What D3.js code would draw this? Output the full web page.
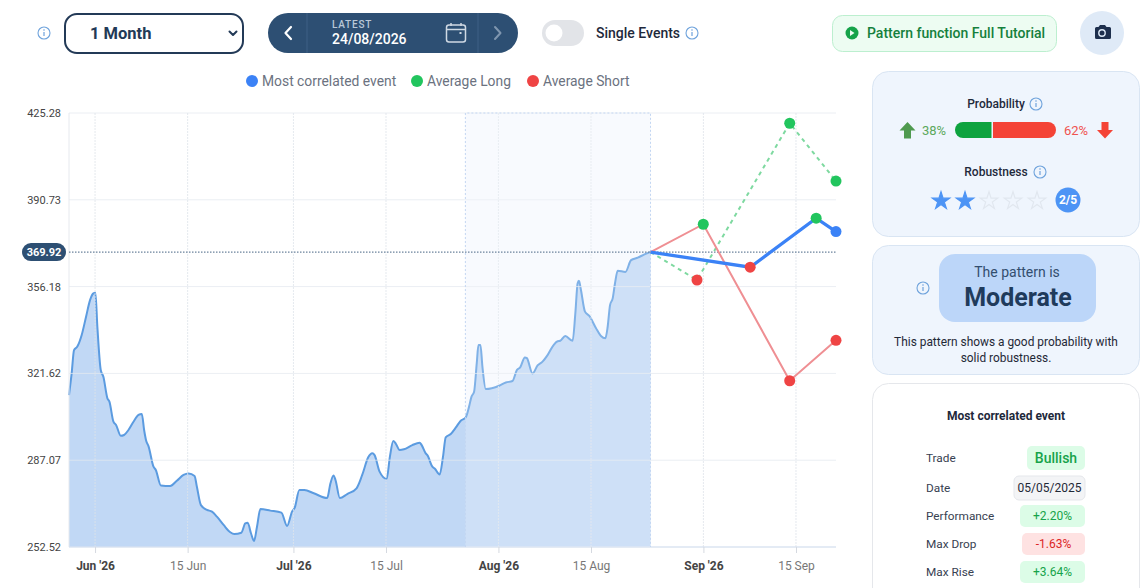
<!DOCTYPE html>
<html><head><meta charset="utf-8">
<script src="https://cdn.jsdelivr.net/npm/d3@7/dist/d3.min.js"></script>
<style>
html,body{margin:0;padding:0;background:#fff;overflow:hidden}
svg{display:block;font-family:Roboto,sans-serif}
</style></head><body><svg id="c" width="1142" height="588"></svg>
<script>
// day number counted from 1 Jun 2026
const priceDays=[-3.94,-3.54,-3.18,-2.68,-2.02,-1.36,-0.76,-0.25,0.05,0.35,0.86,1.26,1.87,2.17,2.78,3.18,3.89,4.39,5.05,5.81,6.57,7.07,7.42,7.73,8.08,8.84,9.19,9.95,11.36,12.37,13.38,14.14,15.05,15.4,16.01,16.92,17.68,18.43,19.44,20.45,21.06,22.12,22.72,23.08,23.58,24.04,24.49,25.0,26.5,28.18,29.04,29.79,30.2,30.9,31.66,33.08,35.1,35.6,36.06,36.36,37.02,38.13,39.54,40.4,41.31,41.92,42.27,43.03,44.09,44.59,45.1,45.45,46.06,46.71,47.98,49.09,49.39,50.0,50.25,51.01,51.36,52.12,52.62,53.03,53.79,54.54,55.3,56.06,56.56,56.92,57.32,57.72,57.98,58.28,58.58,59.09,61.11,62.12,63.13,63.79,64.29,65.0,65.3,66.16,66.92,67.67,68.43,69.34,69.95,70.35,71.11,72.22,72.63,72.98,73.18,73.48,74.09,74.75,75.76,76.51,77.17,77.52,77.88,78.28,78.63,79.04,80.2,81.06,82.07,83.08,83.84,84];
const priceValues=[313.0,321.6,330.9,332.3,336.9,344.2,350.8,353.5,353.75,340.2,323.0,320.3,311.7,310.4,302.4,301.1,296.8,297.1,299.1,302.4,305.1,305.5,299.1,294.8,292.7,284.5,283.2,277.0,276.8,278.9,281.2,281.8,280.8,276.5,269.2,267.3,266.6,264.6,261.3,258.4,257.7,258.2,261.9,262.2,258.0,254.9,260.6,267.6,267.0,266.2,260.9,266.6,268.2,275.2,275.2,273.9,272.0,277.9,281.0,279.2,272.0,273.6,275.9,281.2,288.2,289.8,289.1,282.5,279.6,288.5,294.7,293.8,291.1,291.4,293.1,294.0,293.1,289.8,289.1,284.5,283.8,281.4,288.5,296.2,297.5,300.0,302.8,304.1,308.4,312.3,314.3,325.6,332.9,332.9,324.3,315.4,316.7,318.0,318.6,323.0,324.0,328.0,327.7,321.6,324.8,326.3,328.9,332.9,334.4,334.6,336.5,334.6,345.5,357.5,358.5,354.8,346.2,344.5,339.6,336.5,335.6,340.2,348.8,351.5,357.5,362.5,362.0,366.7,367.7,369.0,369.8,369.92];
const latestDay=84, latestValue=369.92;
const matchDays=[99.07,109.05,112.05], matchValues=[363.89,383.4,378.06];
const longDays=[91.03,105.05,112.05], longValues=[358.8,421.2,398.2];
const shortDays=[91.98,105.05,112.05], shortValues=[381.0,318.7,334.8];
const bandStartDay=56;
const yTicks=[252.52,287.07,321.62,356.18,390.73,425.28];
const xTickDays=[0,14,30,44,61,75,92,106];
const xTickLabels=["Jun '26","15 Jun","Jul '26","15 Jul","Aug '26","15 Aug","Sep '26","15 Sep"];
const legendLabels=["Most correlated event","Average Long","Average Short"];
const probLong=38, probShort=62;
const robustness=2, robustnessMax=5;
const eventRows=["Trade","Date","Performance","Max Drop","Max Rise"];
const eventValues=["Bullish","05/05/2025","+2.20%","-1.63%","+3.64%"];

const BLUE="#3b82f6",GREEN="#22c55e",RED="#ef4444",NAVY="#2d4f73",INFO="#6fa3dc";
const svg=d3.select("#c");
const x=d3.scaleLinear().domain([-3.94,112.05]).range([69,836]);
const y=d3.scaleLinear().domain([252.52,425.28]).range([547,113]);

function txt(g,s,px,py,size,color,opt={}){
  return g.append("text").text(s).attr("x",px).attr("y",py).attr("font-size",size).attr("fill",color)
    .attr("text-anchor",opt.a||"start").attr("font-weight",opt.w||400).attr("letter-spacing",opt.ls||null);
}
function info(cx,cy,r=6){
  const g=svg.append("g").attr("transform",`translate(${cx},${cy})`);
  g.append("circle").attr("r",r).attr("fill","none").attr("stroke",INFO).attr("stroke-width",1.1);
  g.append("rect").attr("x",-.6).attr("y",-1).attr("width",1.2).attr("height",4).attr("fill",INFO);
  g.append("circle").attr("cy",-3).attr("r",.8).attr("fill",INFO);
}
function box(px,py,w,h,r,fill,stroke,sw=1){
  return svg.append("rect").attr("x",px).attr("y",py).attr("width",w).attr("height",h).attr("rx",r)
    .attr("fill",fill).attr("stroke",stroke||"none").attr("stroke-width",sw);
}
function chev(pts,color,sw=2){svg.append("path").attr("d",pts).attr("fill","none").attr("stroke",color).attr("stroke-width",sw).attr("stroke-linecap","round").attr("stroke-linejoin","round");}

/* top bar */
info(44,33);
box(65,14,178,39,12,"#fff","#233a57",2);
txt(svg,"1 Month",90,39,16.5,"#233a57",{w:700});
chev("M229.5 31.5l3.5 3.5 3.5-3.5","#233a57",2);
box(268,13,250,40,20,NAVY);
svg.append("path").attr("d","M307 13V53M478 13V53").attr("stroke","#3f6186").attr("stroke-width",1);
chev("M291 27l-5.5 6 5.5 6","#fff",2.2);
chev("M495 27l5.5 6-5.5 6","#7f96af",2);
txt(svg,"LATEST",332,28,10,"#b9c8d8",{w:500,ls:.8});
txt(svg,"24/08/2026",332,44,14,"#fff",{w:500});
svg.append("rect").attr("x",446.5).attr("y",25).attr("width",19).attr("height",17).attr("rx",2.5).attr("fill","none").attr("stroke","#cfd9e4").attr("stroke-width",1.5);
svg.append("path").attr("d","M446.5 29.5h19M451 23v3M461 23v3").attr("stroke","#cfd9e4").attr("stroke-width",1.5);
svg.append("rect").attr("x",459.5).attr("y",32).attr("width",2).attr("height",2).attr("fill","#cfd9e4");
box(542,20,42,26,13,"#e2e4e8");
svg.append("circle").attr("cx",554).attr("cy",33).attr("r",8.5).attr("fill","#fff");
txt(svg,"Single Events",596,38,14,"#1e293b",{w:500});
info(692,33);
box(832.5,15.5,224,36,10,"#edfcf2","#bcefcf");
svg.append("circle").attr("cx",852).attr("cy",33).attr("r",6.5).attr("fill","#16a34a");
svg.append("path").attr("d","M850 30l4.5 3-4.5 3z").attr("fill","#edfcf2");
txt(svg,"Pattern function Full Tutorial",867,38,14,"#15803d",{w:500});
svg.append("ellipse").attr("cx",1102).attr("cy",33).attr("rx",22).attr("ry",22).attr("fill","#dfeaf7");
svg.append("path").attr("d","M1095.5 27h3l1.5-2h5l1.5 2h3a1.5 1.5 0 0 1 1.5 1.5v9a1.5 1.5 0 0 1-1.5 1.5h-13a1.5 1.5 0 0 1-1.5-1.5v-9a1.5 1.5 0 0 1 1.5-1.5z").attr("fill","#1e2f4d");
svg.append("circle").attr("cx",1102).attr("cy",33).attr("r",3.2).attr("fill","none").attr("stroke","#dfeaf7").attr("stroke-width",1.4);

/* legend */
const legendDotX=[252,417,533],legendColors=[BLUE,GREEN,RED];
legendLabels.forEach((l,i)=>{
  svg.append("circle").attr("cx",legendDotX[i]).attr("cy",81).attr("r",6).attr("fill",legendColors[i]);
  txt(svg,l,legendDotX[i]+10,86,13.85,"#6b7280");
});

/* chart */
const bx0=x(bandStartDay),bx1=x(latestDay);
svg.append("rect").attr("x",bx0).attr("y",y(425.28)).attr("width",bx1-bx0).attr("height",y(252.52)-y(425.28)).attr("fill","#f6f9fe");
const series=d3.zip(priceDays,priceValues);
const curve=d3.curveMonotoneX;
svg.append("path").datum(series).attr("fill","#c1d8f5")
  .attr("d",d3.area().x(d=>x(d[0])).y0(y(252.52)).y1(d=>y(d[1])).curve(curve));
svg.append("path").datum(series).attr("fill","none").attr("stroke","#5b9be0").attr("stroke-width",2)
  .attr("d",d3.line().x(d=>x(d[0])).y(d=>y(d[1])).curve(curve));
const grid=svg.append("g");
grid.selectAll("line.h").data(yTicks).join("line").attr("x1",69).attr("x2",836).attr("y1",d=>y(d)).attr("y2",d=>y(d)).attr("stroke","#e4e8ef").attr("stroke-opacity",.75);
grid.selectAll("line.v").data(xTickDays).join("line").attr("x1",d=>x(d)).attr("x2",d=>x(d)).attr("y1",113).attr("y2",547).attr("stroke","#dfe3ea").attr("stroke-opacity",.8).attr("stroke-dasharray","2 1");
grid.append("line").attr("x1",69).attr("x2",69).attr("y1",113).attr("y2",547).attr("stroke","#e6e9ee");
svg.append("line").attr("x1",69).attr("x2",836).attr("y1",y(252.52)).attr("y2",y(252.52)).attr("stroke","#d3dff0").attr("stroke-width",1);

// highlighted window
svg.append("rect").attr("x",bx0).attr("y",y(425.28)).attr("width",bx1-bx0).attr("height",y(252.52)-y(425.28)).attr("fill","#fff").attr("fill-opacity",.22);
svg.append("path").attr("d",`M${bx0} ${y(252.52)}V${y(425.28)}H${bx1}V${y(252.52)}`).attr("fill","none").attr("stroke","#c3d6f2").attr("stroke-dasharray","2 2");

// axes
const yAxis=svg.append("g").attr("transform","translate(69,0)").call(d3.axisLeft(y).tickValues(yTicks).tickSize(0).tickPadding(8).tickFormat(d3.format(".2f")));
yAxis.select(".domain").remove();
yAxis.selectAll("text").attr("font-size",11).attr("font-family","Roboto,sans-serif").attr("fill","#444");
const xAxis=svg.append("g").attr("transform","translate(0,547)").call(d3.axisBottom(x).tickValues(xTickDays).tickSize(6).tickPadding(8.5).tickFormat((d,i)=>xTickLabels[i]));
xAxis.select(".domain").remove();
xAxis.selectAll("line").attr("stroke","#d5d9e0");
xAxis.selectAll("text").attr("font-size",12).attr("font-family","Roboto,sans-serif")
  .attr("fill",(d,i)=>i%2?"#777":"#444").attr("font-weight",(d,i)=>i%2?400:700);

// latest price line and label
svg.append("line").attr("x1",69).attr("x2",836).attr("y1",y(latestValue)).attr("y2",y(latestValue)).attr("stroke","#6b829c").attr("stroke-width",1.3).attr("stroke-dasharray","1.5 1.5");
box(22,y(latestValue)-9,44,18,9,NAVY);
txt(svg,d3.format(".2f")(latestValue),44,y(latestValue)+4,11,"#fff",{a:"middle",w:700});

// forecast lines
const line=d3.line().x(d=>x(d[0])).y(d=>y(d[1]));
const withStart=(ds,vs)=>[[latestDay,latestValue],...d3.zip(ds,vs)];
svg.append("path").datum(withStart(longDays,longValues)).attr("d",line).attr("fill","none").attr("stroke","#7ed9a0").attr("stroke-width",2).attr("stroke-dasharray","4 4");
svg.append("path").datum(withStart(shortDays,shortValues)).attr("d",line).attr("fill","none").attr("stroke","#ef8f93").attr("stroke-width",2);
svg.append("path").datum(withStart(matchDays,matchValues)).attr("d",line).attr("fill","none").attr("stroke",BLUE).attr("stroke-width",3.3);
const dots=svg.append("g");
[[longDays,longValues,false],[shortDays,shortValues,false],[matchDays,matchValues,true]].forEach(([ds,vs,last])=>{
  ds.forEach((d,i)=>{
    dots.append("circle").attr("cx",x(d)).attr("cy",y(vs[i])).attr("r",5.5)
      .attr("fill",last&&i===ds.length-1?BLUE:(vs[i]>=latestValue?GREEN:RED));
  });
});

/* panel 1 */
box(872.5,71.5,267,165,16,"#eff5fd","#d9e5f3");
txt(svg,"Probability",996,108,12,"#1e293b",{a:"middle",w:500});
info(1036,104);
svg.append("path").attr("d","M907.5 122l8 8.5h-4.5v8h-7v-8h-4.5z").attr("fill","#4f9a4f");
txt(svg,probLong+"%",922,134.5,13,"#5ca85c");
const bar=d3.scaleLinear().domain([0,100]).range([955,1051]);
svg.append("path").attr("d",`M${bar(probLong)} 122H963a8 8 0 0 0 0 16H${bar(probLong)}z`).attr("fill","#0ea33f");
svg.append("path").attr("d",`M${bar(probLong)+1.5} 122H1048a8 8 0 0 1 0 16H${bar(probLong)+1.5}z`).attr("fill","#f44336");
txt(svg,probShort+"%",1064,134.5,13,"#ef5350");
svg.append("path").attr("d","M1105 138.5l-8-8.5h4.5v-8h7v8h4.5z").attr("fill","#f44336");
txt(svg,"Robustness",996,176,12,"#1e293b",{a:"middle",w:500});
info(1040,172);
const starPath=d3.symbol().type(d3.symbolStar).size(95)();
d3.range(robustnessMax).forEach(i=>{
  svg.append("path").attr("d",starPath).attr("transform",`translate(${941+24*i},201)`)
    .attr("fill",i<robustness?"#4d94f5":"none").attr("stroke",i<robustness?"#4d94f5":"#e1e7ef").attr("stroke-width",1.2);
});
svg.append("circle").attr("cx",1068).attr("cy",200).attr("r",12.5).attr("fill","#4d94f5");
txt(svg,`${robustness}/${robustnessMax}`,1068,204,12,"#fff",{a:"middle",w:700});

/* panel 2 */
box(872.5,245.5,267,129,16,"#eff5fd","#d9e5f3");
box(939,254,157,68,16,"#bcd6f9");
info(923,288);
txt(svg,"The pattern is",1017,277,14,"#334e6f",{a:"middle"});
txt(svg,"Moderate",1018,306,25,"#1f3b5c",{a:"middle",w:700});
txt(svg,"This pattern shows a good probability with",1006,346,11.9,"#1f2937",{a:"middle"});
txt(svg,"solid robustness.",1006,362,11.9,"#1f2937",{a:"middle"});

/* panel 3 */
box(872.5,383.5,267,230,16,"#fff","#e5e7eb");
txt(svg,"Most correlated event",1006,420,12,"#1e293b",{a:"middle",w:700});
const rowY=[462,492,520,548,576];
const badgeFill=["#dcfce7","#f3f4f6","#dcfce7","#fee2e2","#dcfce7"];
const badgeText=["#16a34a","#1f2937","#16a34a","#dc2626","#16a34a"];
const badgeW=[58,71,65,63,65],badgeH=[24,24,22,22,22],badgeSize=[14,12,12,12,12];
eventRows.forEach((r,i)=>{
  txt(svg,r,926,rowY[i],11.8,"#374151");
  box(1085-badgeW[i],rowY[i]-4-badgeH[i]/2,badgeW[i],badgeH[i],5,badgeFill[i],i===1?"#e5e7eb":null);
  txt(svg,eventValues[i],1085-badgeW[i]/2,rowY[i]+(i===0?1:0),badgeSize[i],badgeText[i],{a:"middle",w:i===0?500:400});
});
</script></body></html>
